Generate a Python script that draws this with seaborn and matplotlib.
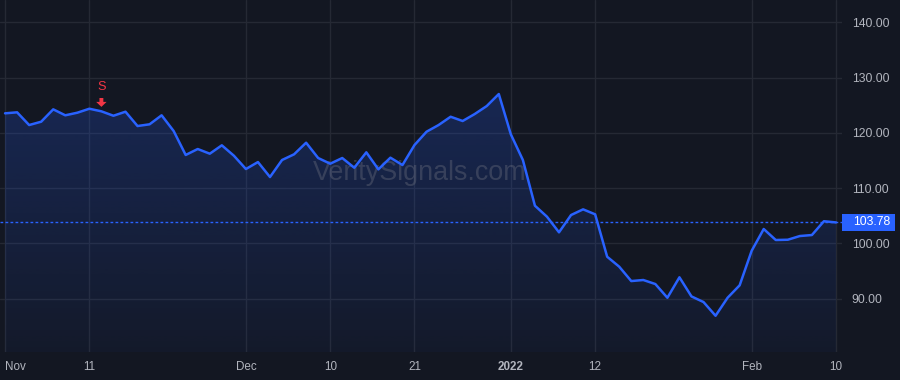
import numpy as np
import pandas as pd
import matplotlib
matplotlib.use("Agg")
import matplotlib.pyplot as plt
import matplotlib.transforms as mtransforms
from matplotlib.patches import Rectangle
import seaborn as sns

# ---------------- data ----------------
prices = [123.53, 123.71, 121.41, 122.01, 124.25, 123.17, 123.64, 124.36, 123.89, 123.09,
          123.82, 121.23, 121.54, 123.17, 120.33, 115.99, 117.07, 116.22, 117.74, 115.86,
          113.45, 114.71, 112.00, 115.08, 116.11, 118.21, 115.44, 114.41, 115.44, 113.68,
          116.47, 113.39, 115.50, 114.17, 117.79, 120.20, 121.41, 122.91, 122.14, 123.40,
          124.85, 127.02, 119.73, 115.08, 106.81, 104.82, 101.99, 105.12, 106.15, 105.25,
          97.57, 95.77, 93.17, 93.36, 92.63, 90.15, 93.85, 90.39, 89.37, 86.89,
          90.15, 92.40, 98.66, 102.59, 100.60, 100.65, 101.32, 101.50, 104.00, 103.78]
tick_index = [0, 7, 20, 27, 34, 42, 49, 62, 69]
tick_labels = ["Nov", "11", "Dec", "10", "21", "2022", "12", "Feb", "10"]
price_ticks = [90, 100, 110, 120, 130, 140]
last_price = 103.78
signal_index = 8
signal_label = "S"
watermark = "VeritySignals.com"

# ---------------- style ----------------
BG = "#131722"
GRID = "#252934"
LINE = "#2962ff"
TXT = "#b2b5be"
RED = "#f23645"

sns.set_theme(style="dark", rc={"axes.facecolor": BG, "figure.facecolor": BG})
plt.rcParams["font.family"] = ["Liberation Sans", "DejaVu Sans"]

df = pd.DataFrame({"idx": np.arange(len(prices)), "price": prices})

fig = plt.figure(figsize=(9, 3.8), dpi=100, facecolor=BG)
ax = fig.add_axes([0, 28 / 380, 842 / 900, 352 / 380])
ax.set_facecolor(BG)

XMIN, XMAX = -0.42, len(prices) - 1 + 0.5
YMIN, YMAX = 80.33, 144.04

# gradient area fill clipped to the area under the line
fill = ax.fill_between(df["idx"], df["price"], YMIN, color="none", lw=0)
clip_path = fill.get_paths()[0]
grad = np.zeros((256, 1, 4))
grad[:, :, 0] = 41 / 255
grad[:, :, 1] = 98 / 255
grad[:, :, 2] = 1.0
grad[:, 0, 3] = np.linspace(0.22, 0.04, 256)
im = ax.imshow(grad, extent=[XMIN, XMAX, YMIN, max(prices)], aspect="auto",
               origin="upper", zorder=1, interpolation="bilinear")
im.set_clip_path(clip_path, transform=ax.transData)

# watermark
ax.text(0.499, 0.508, watermark, transform=ax.transAxes, ha="center", va="center",
        fontsize=19.4, color="#787b86", alpha=0.34, zorder=2)

# main line
sns.lineplot(data=df, x="idx", y="price", color=LINE, linewidth=1.8, ax=ax, zorder=3)

# last price dotted line
ax.axhline(last_price, color=LINE, lw=1, ls=(0, (2, 1.6)), zorder=2.5)

ax.set_xlim(XMIN, XMAX)
ax.set_ylim(YMIN, YMAX)
ax.set_xlabel("")
ax.set_ylabel("")

for s in ax.spines.values():
    s.set_visible(False)

ax.set_xticks(tick_index)
ax.set_xticklabels(tick_labels)
ax.set_yticks(price_ticks)
ax.set_yticklabels([f"{v:.2f}" for v in price_ticks])
ax.yaxis.tick_right()
ax.tick_params(axis="y", length=0, pad=7, labelcolor=TXT, labelsize=8.7,
               right=False, left=False, labelright=True, labelleft=False)
ax.tick_params(axis="x", length=0, pad=6.5, labelcolor=TXT, labelsize=8.4)
xl = ax.get_xticklabels()
xl[0].set_ha("left")
xl[0].set_x(XMIN)
for lab in xl:
    if lab.get_text() == "2022":
        lab.set_fontweight("bold")
ax.grid(True, color=GRID, lw=1)
ax.set_axisbelow(True)

# price label on the scale
blend = mtransforms.blended_transform_factory(ax.transAxes, ax.transData)
box_h = 17 / (352 / (YMAX - YMIN))
ax.add_patch(Rectangle((1.0, last_price - box_h / 2), 53 / 842, box_h,
                       transform=blend, clip_on=False, facecolor=LINE,
                       edgecolor="none", zorder=5))
ax.text(1.0 + 11 / 842, last_price, f"{last_price:.2f}", transform=blend,
        ha="left", va="center", color="white", fontsize=8.8, zorder=6, clip_on=False)

# signal marker
sig_y = prices[signal_index]
ax.annotate("", xy=(signal_index, sig_y), xytext=(0, 9.6), textcoords="offset points",
            arrowprops=dict(arrowstyle="simple,head_length=0.36,head_width=0.75,tail_width=0.28",
                            fc=RED, ec="none", shrinkA=0, shrinkB=3.2, mutation_scale=10),
            zorder=6)
ax.annotate(signal_label, xy=(signal_index, sig_y), xytext=(0, 17.5),
            textcoords="offset points", ha="center", va="center",
            color=RED, fontsize=9.2, zorder=6)

fig.savefig("out.png", dpi=100, facecolor=BG)
